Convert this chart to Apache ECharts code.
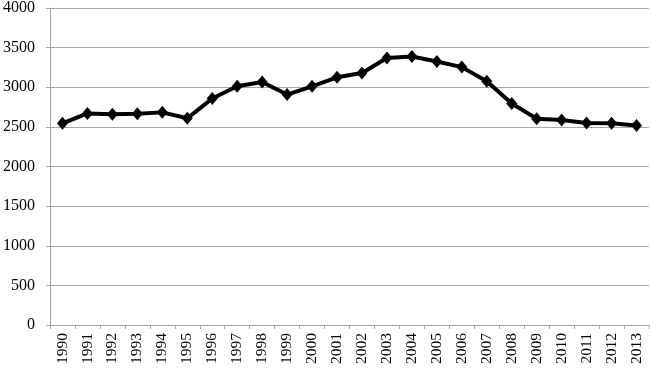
<!DOCTYPE html>
<html>
<head>
<meta charset="utf-8">
<script src="https://cdn.jsdelivr.net/npm/echarts@6/dist/echarts.min.js"></script>
<style>html,body{margin:0;padding:0;background:#fff}#c{width:650px;height:368px}</style>
</head>
<body>
<div id="c"></div>
<script>
var years = ['1990','1991','1992','1993','1994','1995','1996','1997','1998','1999','2000','2001','2002','2003','2004','2005','2006','2007','2008','2009','2010','2011','2012','2013'];
var values = [2545,2670,2660,2665,2683,2608,2858,3012,3066,2908,3012,3125,3179,3370,3387,3325,3254,3075,2795,2604,2587,2550,2545,2516];
var yTicks = [0,500,1000,1500,2000,2500,3000,3500,4000];

var chart = echarts.init(document.getElementById('c'));
chart.setOption({
  animation: false,
  grid: {left: 48, right: 1, top: 5, bottom: 43, containLabel: false},
  xAxis: {
    type: 'category',
    data: years,
    boundaryGap: true,
    axisLine: {lineStyle: {color: '#a6a6a6', width: 1}},
    axisTick: {show: true, alignWithLabel: false, length: 4, lineStyle: {color: '#a6a6a6'}},
    axisLabel: {rotate: 90, interval: 0, margin: 8, fontFamily: 'Liberation Serif', fontSize: 15.5, color: '#000'}
  },
  yAxis: {
    type: 'value',
    min: yTicks[0],
    max: yTicks[yTicks.length - 1],
    interval: 500,
    axisLine: {show: true, lineStyle: {color: '#a6a6a6', width: 1}},
    axisTick: {show: true, length: 4, lineStyle: {color: '#a6a6a6'}},
    splitLine: {show: true, lineStyle: {color: '#a6a6a6', width: 1}},
    axisLabel: {margin: 15, fontFamily: 'Liberation Serif', fontSize: 16, color: '#000', formatter: function (v) { return String(v); }}
  },
  series: [{
    type: 'line',
    data: values,
    symbol: 'diamond',
    symbolSize: [11, 13],
    lineStyle: {color: '#000', width: 4},
    itemStyle: {color: '#000'}
  }]
});
</script>
</body>
</html>
